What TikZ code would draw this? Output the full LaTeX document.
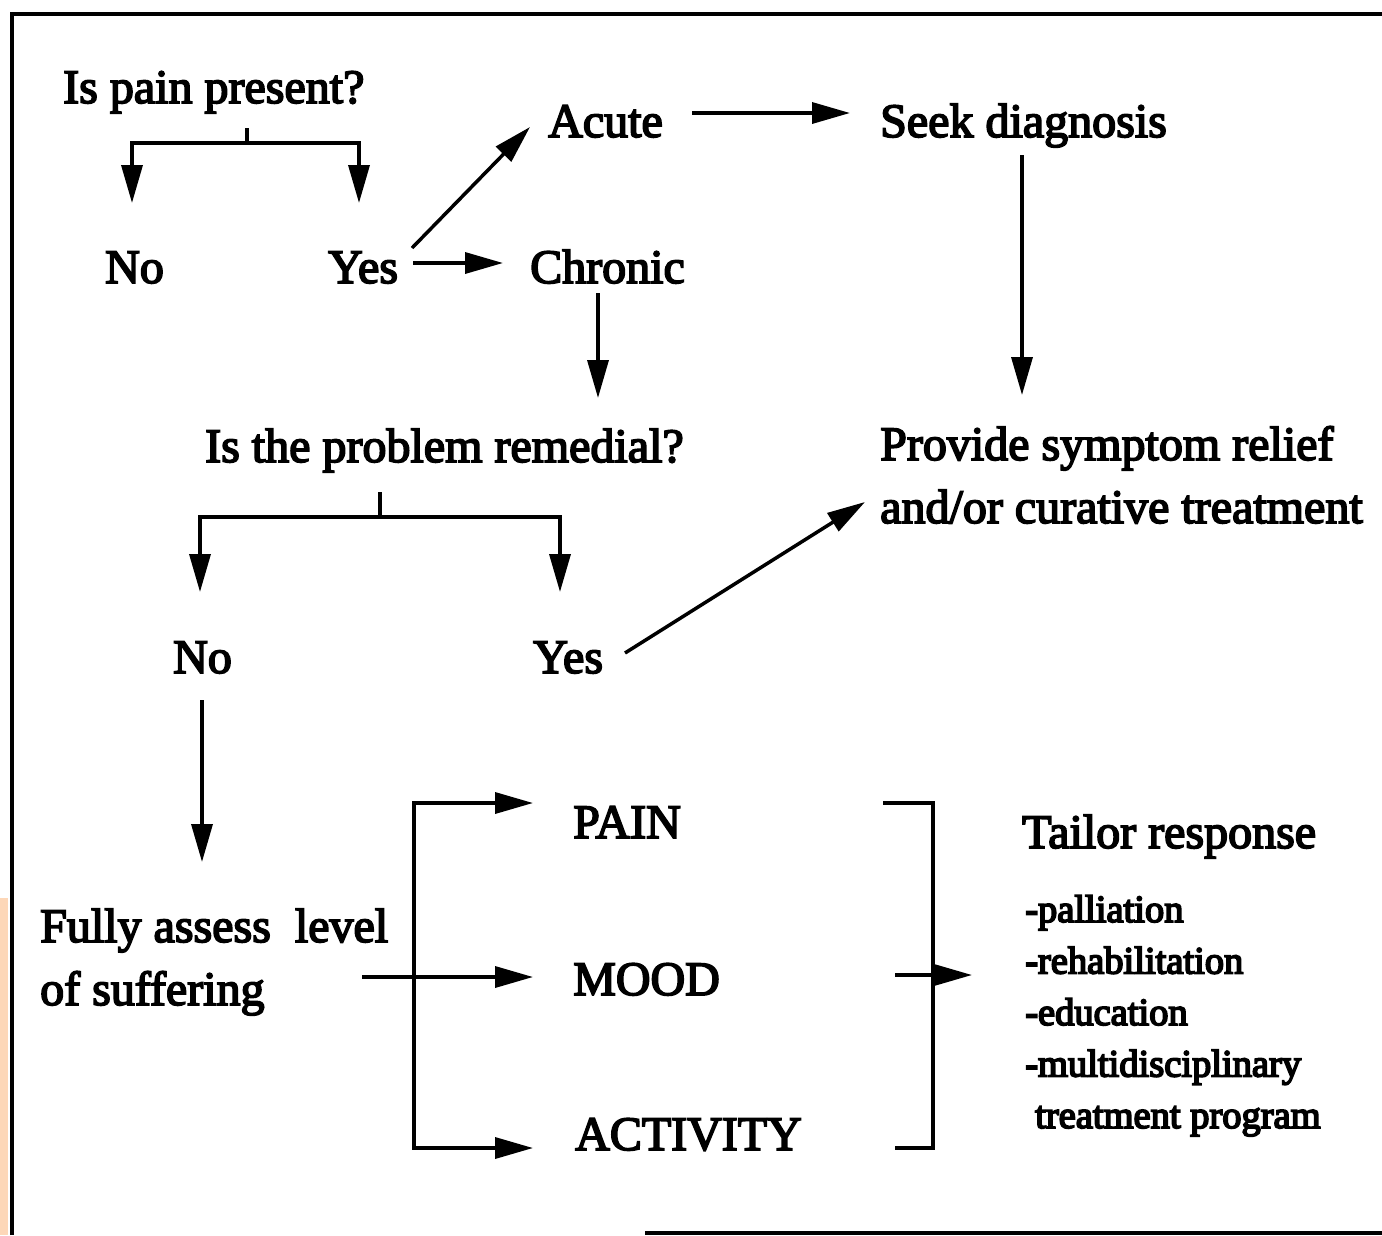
\documentclass[tikz,border=0pt]{standalone}
\usepackage{fontspec}
\setmainfont{Liberation Serif}
\newfontfamily\scanfont{Liberation Serif}[FakeBold=3.5]
\newfontfamily\listfont{Liberation Serif}[FakeBold=4.5]
\usetikzlibrary{arrows.meta}
\definecolor{peach}{RGB}{253,215,184}

\begin{document}
\begin{tikzpicture}[x=1pt,y=-1pt,
  lbl/.style={inner sep=0pt, anchor=base west, align=left,
              font=\scanfont\fontsize{48}{63}\selectfont},
  lst/.style={inner sep=0pt, anchor=base west, align=left,
              font=\listfont\fontsize{38.5}{51.5}\selectfont},
  conn/.style={line width=3.5pt, -{Triangle[length=38pt,width=21pt]}},
  plainline/.style={line width=3.5pt},
  framestyle/.style={line width=3.5pt}]

% page and frame
\fill[white] (0,0) rectangle (1382,1235);
\useasboundingbox (0,0) rectangle (1382,1235);
\fill[peach] (0,898) rectangle (8,1235);
\draw[framestyle] (12,1235) -- (12,14) -- (1382,14);
\draw[framestyle] (645,1233) -- (1382,1233);

% texts (multi-line nodes are placed by the baseline of their last line)
\node[lbl] (q1)      at (63,103)  {Is pain present?};
\node[lbl] (no1)     at (105,283) {No};
\node[lbl] (yes1)    at (328,283) {Yes};
\node[lbl] (acute)   at (548,137) {Acute};
\node[lbl] (seek)    at (880,137) {Seek diagnosis};
\node[lbl] (chronic) at (530,283) {Chronic};
\node[lbl] (q2)      at (205,462) {Is the problem remedial?};
\node[lbl] (provide) at (880,523) {Provide symptom relief\\and/or curative treatment};
\node[lbl] (no2)     at (173,673) {No};
\node[lbl] (yes2)    at (533,673) {Yes};
\node[lbl] (fully)   at (40,1005) {Fully assess\ \ level\\of suffering};
\node[lbl] (pain)    at (573,838) {PAIN};
\node[lbl] (mood)    at (573,995) {MOOD};
\node[lbl] (activity) at (575,1150) {ACTIVITY};
\node[lbl] (tailor)  at (1022,848) {Tailor response};
\node[lst] (resp)    at (1025,1128) {-palliation\\-rehabilitation\\-education\\-multidisciplinary\\\hspace*{10pt}treatment program};

% first question
\coordinate (b1) at ([shift={(184,40)}]q1.base west);
\draw[plainline] ([shift={(184,25)}]q1.base west) -- (b1);
\draw[conn] (b1) -| ([shift={(27,-80)}]no1.base west);
\draw[conn] (b1) -| ([shift={(31,-80)}]yes1.base west);

\draw[conn] ([shift={(84,-35)}]yes1.base west) -- ([shift={(-18,-10)}]acute.base west);
\draw[conn] ([shift={(85,-20)}]yes1.base west) -- ([shift={(-27,-20)}]chronic.base west);
\draw[conn] ([shift={(144,-24)}]acute.base west) -- ([shift={(-30,-24)}]seek.base west);
\draw[conn] ([shift={(142,18)}]seek.base west) -- ([shift={(142,-128)}]provide.base west);
\draw[conn] ([shift={(68,10)}]chronic.base west) -- ([shift={(393,-64)}]q2.base west);

% second question
\coordinate (b2) at ([shift={(175,55)}]q2.base west);
\draw[plainline] ([shift={(175,30)}]q2.base west) -- (b2);
\draw[conn] (b2) -| ([shift={(27,-81)}]no2.base west);
\draw[conn] (b2) -| ([shift={(27,-81)}]yes2.base west);

\draw[conn] ([shift={(92,-20)}]yes2.base west) -- ([shift={(-15,-21)}]provide.base west);
\draw[conn] ([shift={(29,27)}]no2.base west) -- ([shift={(162,-143)}]fully.base west);

% assessment fork
\coordinate (fork) at (414,977);
\draw[conn] ([shift={(322,-28)}]fully.base west) -- ([shift={(-40,-18)}]mood.base west);
\draw[conn] (fork) |- ([shift={(-40,-35)}]pain.base west);
\draw[conn] (fork) |- ([shift={(-42,-2)}]activity.base west);

% closing bracket and response arrow
\draw[plainline] (883,803) -- (933,803) -- (933,1148) -- (895,1148);
\coordinate (brk) at (895,975);
\draw[conn] (brk) -- ([shift={(-53,-153)}]resp.base west);
\end{tikzpicture}
\end{document}
